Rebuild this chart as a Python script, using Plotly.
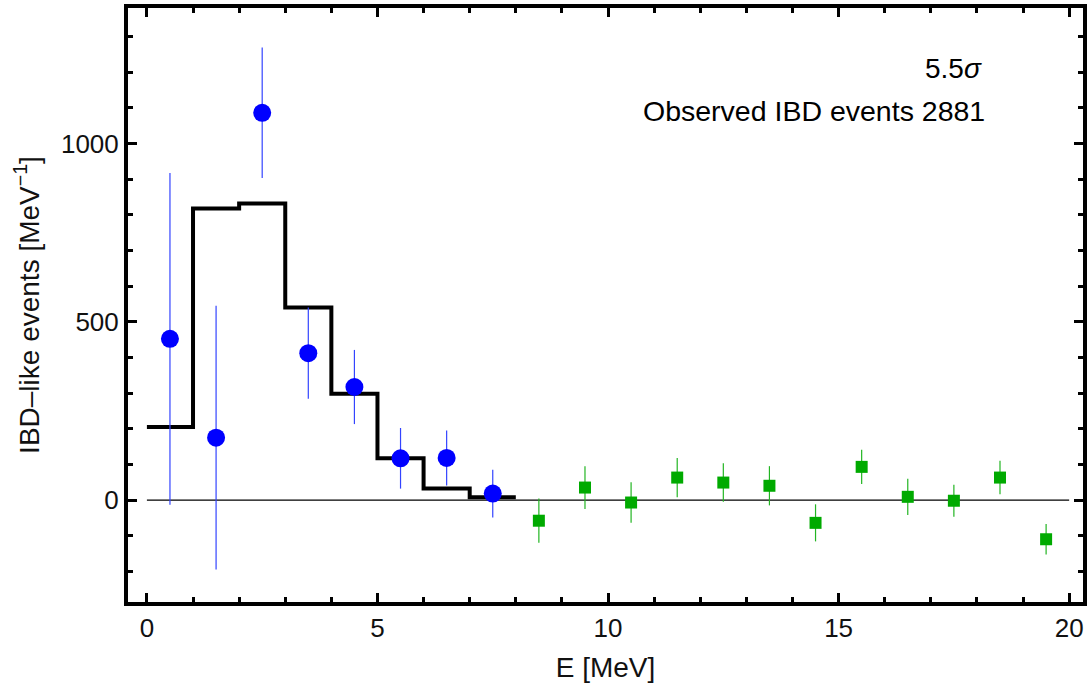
import plotly.graph_objects as go

# Blue data points (reactor-on energies)
blue_x = [0.5, 1.5, 2.5, 3.5, 4.5, 5.5, 6.5, 7.5]
blue_y = [452, 175, 1086, 412, 317, 117, 118, 18]
blue_err = [465, 370, 183, 128, 104, 85, 77, 67]

# Green data points (higher energies)
green_x = [8.5, 9.5, 10.5, 11.5, 12.5, 13.5, 14.5, 15.5, 16.5, 17.5, 18.5, 19.5]
green_y = [-58, 35, -7, 63, 49, 40, -64, 93, 9, -2, 63, -110]
green_err = [62, 60, 57, 55, 54, 55, 52, 48, 51, 45, 47, 43]

# Prediction histogram (bin edges and contents)
hist_edges = [0, 1, 2, 3, 4, 5, 6, 7, 8]
hist_vals = [205, 818, 832, 540, 298, 117, 32, 8]

FONT = "Liberation Sans, Arial, sans-serif"

fig = go.Figure()

# zero line
fig.add_trace(go.Scatter(x=[0, 20], y=[0, 0], mode="lines",
                         line=dict(color="black", width=1.2), hoverinfo="skip",
                         showlegend=False))

# histogram as step line
fig.add_trace(go.Scatter(x=hist_edges, y=hist_vals + [hist_vals[-1]],
                         mode="lines", line=dict(color="black", width=4, shape="hv"),
                         showlegend=False))

fig.add_trace(go.Scatter(x=blue_x, y=blue_y, mode="markers",
                         marker=dict(color="#0000ff", size=18, symbol="circle"),
                         error_y=dict(type="data", array=blue_err, color="#3344ff",
                                      thickness=1.2, width=0),
                         showlegend=False))

fig.add_trace(go.Scatter(x=green_x, y=green_y, mode="markers",
                         marker=dict(color="#00aa00", size=12, symbol="square"),
                         error_y=dict(type="data", array=green_err, color="#22b522",
                                      thickness=1.2, width=0),
                         showlegend=False))

fig.add_annotation(x=18.15, y=1211, xref="x", yref="y", text="5.5<i>σ</i>",
                   showarrow=False, xanchor="right", yanchor="middle",
                   font=dict(family=FONT, size=28, color="black"))
fig.add_annotation(x=18.22, y=1091, xref="x", yref="y",
                   text="Observed IBD events 2881",
                   showarrow=False, xanchor="right", yanchor="middle",
                   font=dict(family=FONT, size=28.5, color="black"))

fig.update_layout(
    width=1091, height=689,
    margin=dict(l=128, r=4, t=8, b=87),
    paper_bgcolor="white", plot_bgcolor="white",
    font=dict(family=FONT, size=26, color="#111"),
    xaxis=dict(range=[-0.41, 20.3], tickvals=[0, 5, 10, 15, 20],
               ticks="inside", ticklen=9, tickwidth=3, tickcolor="black",
               minor=dict(dtick=1, tick0=0, ticks="inside", ticklen=5, tickwidth=3,
                          tickcolor="black"),
               showline=True, linecolor="black", linewidth=4, mirror="allticks",
               showgrid=False, zeroline=False,
               title=dict(text="E [MeV]", standoff=16,
                          font=dict(family=FONT, size=28)),
               tickfont=dict(family=FONT, size=26)),
    yaxis=dict(range=[-286, 1380], tickvals=[0, 500, 1000],
               ticks="inside", ticklen=9, tickwidth=3, tickcolor="black",
               minor=dict(dtick=100, tick0=0, ticks="inside", ticklen=5, tickwidth=3,
                          tickcolor="black"),
               showline=True, linecolor="black", linewidth=4, mirror="allticks",
               showgrid=False, zeroline=False,
               title=dict(text="IBD–like events [MeV<sup>−1</sup>]", standoff=14,
                          font=dict(family=FONT, size=28)),
               tickfont=dict(family=FONT, size=26)),
)

fig.write_html("out.html")
